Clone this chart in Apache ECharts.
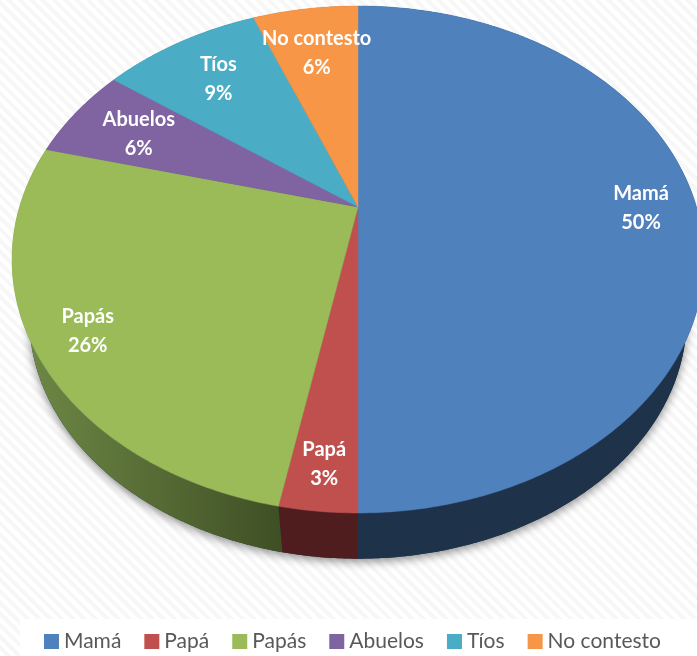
<!DOCTYPE html>
<html>
<head>
<meta charset="utf-8">
<script src="https://cdn.jsdelivr.net/npm/echarts@6/dist/echarts.min.js"></script>
<style>
  html, body { margin: 0; padding: 0; }
  body {
    width: 697px; height: 656px; overflow: hidden;
    background: repeating-linear-gradient(45deg, #fff 0, #fff 4px, #f7f7f7 4px, #f7f7f7 8px);
  }
  #chart { width: 697px; height: 656px; }
</style>
</head>
<body>
<div id="chart"></div>
<script>
var categories = ['Mamá', 'Papá', 'Papás', 'Abuelos', 'Tíos', 'No contesto'];
var values = [50, 3, 26, 6, 9, 6];
var topColors = ['#4f81bd', '#c0504d', '#9bbb59', '#8064a2', '#4bacc6', '#f79646'];
// how far out each label sits, as a share of the radius
var labelRadius = [0.836, 0.87, 0.856, 0.764, 0.756, 0.75];

// perspective of the tilted disc, taken from the rim of the picture
var apexX = 358, apexY = 207;
var scaleX = 338.5, scaleY = 242.6, tilt = 0.2071;
var wallShiftY = 61, wallScale = 0.95;

function project(angle, r) {
  var u = Math.sin(angle) * r, v = Math.cos(angle) * r;
  var d = 1 + tilt * v;
  return [apexX + scaleX * u / d, apexY - scaleY * v / d];
}
function projectLow(angle) {
  var p = project(angle, 1);
  return [apexX + (p[0] - apexX) * wallScale, apexY + wallShiftY + (p[1] - apexY) * wallScale];
}
function toAngle(v) { return v / 100 * Math.PI * 2; }
function arc(from, to, fn) {
  var pts = [], n = Math.max(2, Math.ceil((to - from) * 120));
  for (var i = 0; i <= n; i++) pts.push(fn(from + (to - from) * i / n));
  return pts;
}

function renderTop(params, api) {
  var a0 = toAngle(api.value(0)), a1 = toAngle(api.value(0) + api.value(1));
  var pts = [[apexX, apexY]].concat(arc(a0, a1, function (a) { return project(a, 1); }));
  return {
    type: 'polygon',
    shape: { points: pts },
    style: { fill: api.visual('color'), stroke: api.visual('color'), lineWidth: 0.5 }
  };
}
function renderWall(params, api) {
  var a0 = toAngle(api.value(0)), a1 = toAngle(api.value(0) + api.value(1));
  var up = arc(a0, a1, function (a) { return project(a, 1); });
  var low = arc(a0, a1, projectLow).reverse();
  return {
    type: 'polygon',
    shape: { points: up.concat(low) },
    style: { fill: wallFill[params.dataIndex] }
  };
}
function renderLabel(params, api) {
  var i = params.dataIndex;
  var p = project(toAngle(api.value(0) + api.value(1) / 2), labelRadius[i]);
  return {
    type: 'text',
    style: {
      x: p[0], y: p[1] + 1,
      text: categories[i] + '\n' + api.value(1) + '%',
      fill: '#fff',
      font: 'bold 20px Lato',
      lineHeight: 29,
      align: 'center',
      verticalAlign: 'middle'
    }
  };
}

var wallFill = [
  '#1e324a',
  '#501d1e',
  { type: 'linear', x: 0, y: 0, x2: 1, y2: 0, colorStops: [
    { offset: 0, color: '#708b47' }, { offset: 1, color: '#3f4f25' }
  ] },
  '#4d3c61', '#2d6777', '#94592a'
];

var starts = [], sum = 0;
values.forEach(function (v) { starts.push(sum); sum += v; });
var sliceData = values.map(function (v, i) { return [starts[i], v]; });

var series = [
  {
    type: 'custom', coordinateSystem: 'none', silent: true, z: 1, clip: false,
    data: [[0]],
    renderItem: function () {
      return {
        type: 'polygon',
        shape: { points: arc(0, Math.PI * 2, projectLow) },
        style: { fill: '#1e324a', shadowBlur: 10, shadowColor: 'rgba(0,0,0,0.45)', shadowOffsetY: 3 }
      };
    }
  },
  { type: 'custom', coordinateSystem: 'none', silent: true, z: 2, clip: false, data: sliceData, renderItem: renderWall }
];
categories.forEach(function (name, i) {
  series.push({
    name: name, type: 'custom', coordinateSystem: 'none', silent: true, z: 3, clip: false,
    itemStyle: { color: topColors[i] },
    data: [sliceData[i]],
    renderItem: renderTop
  });
});
series.push({ type: 'custom', coordinateSystem: 'none', silent: true, z: 4, clip: false, data: sliceData, renderItem: renderLabel });

var chart = echarts.init(document.getElementById('chart'), null, { renderer: 'canvas' });
chart.setOption({
  animation: false,
  backgroundColor: 'transparent',
  graphic: [{
    type: 'rect', z: 0, silent: true,
    shape: { x: 20, y: 619, width: 677, height: 37 },
    style: { fill: '#fff' }
  }],
  legend: {
    data: categories,
    left: 44, top: 631,
    padding: 0,
    icon: 'rect',
    itemWidth: 15, itemHeight: 15, itemGap: 23,
    textStyle: { fontFamily: 'Lato', fontSize: 21, color: '#595959', padding: [0, 0, 0, 0] }
  },
  series: series
});
</script>
</body>
</html>
